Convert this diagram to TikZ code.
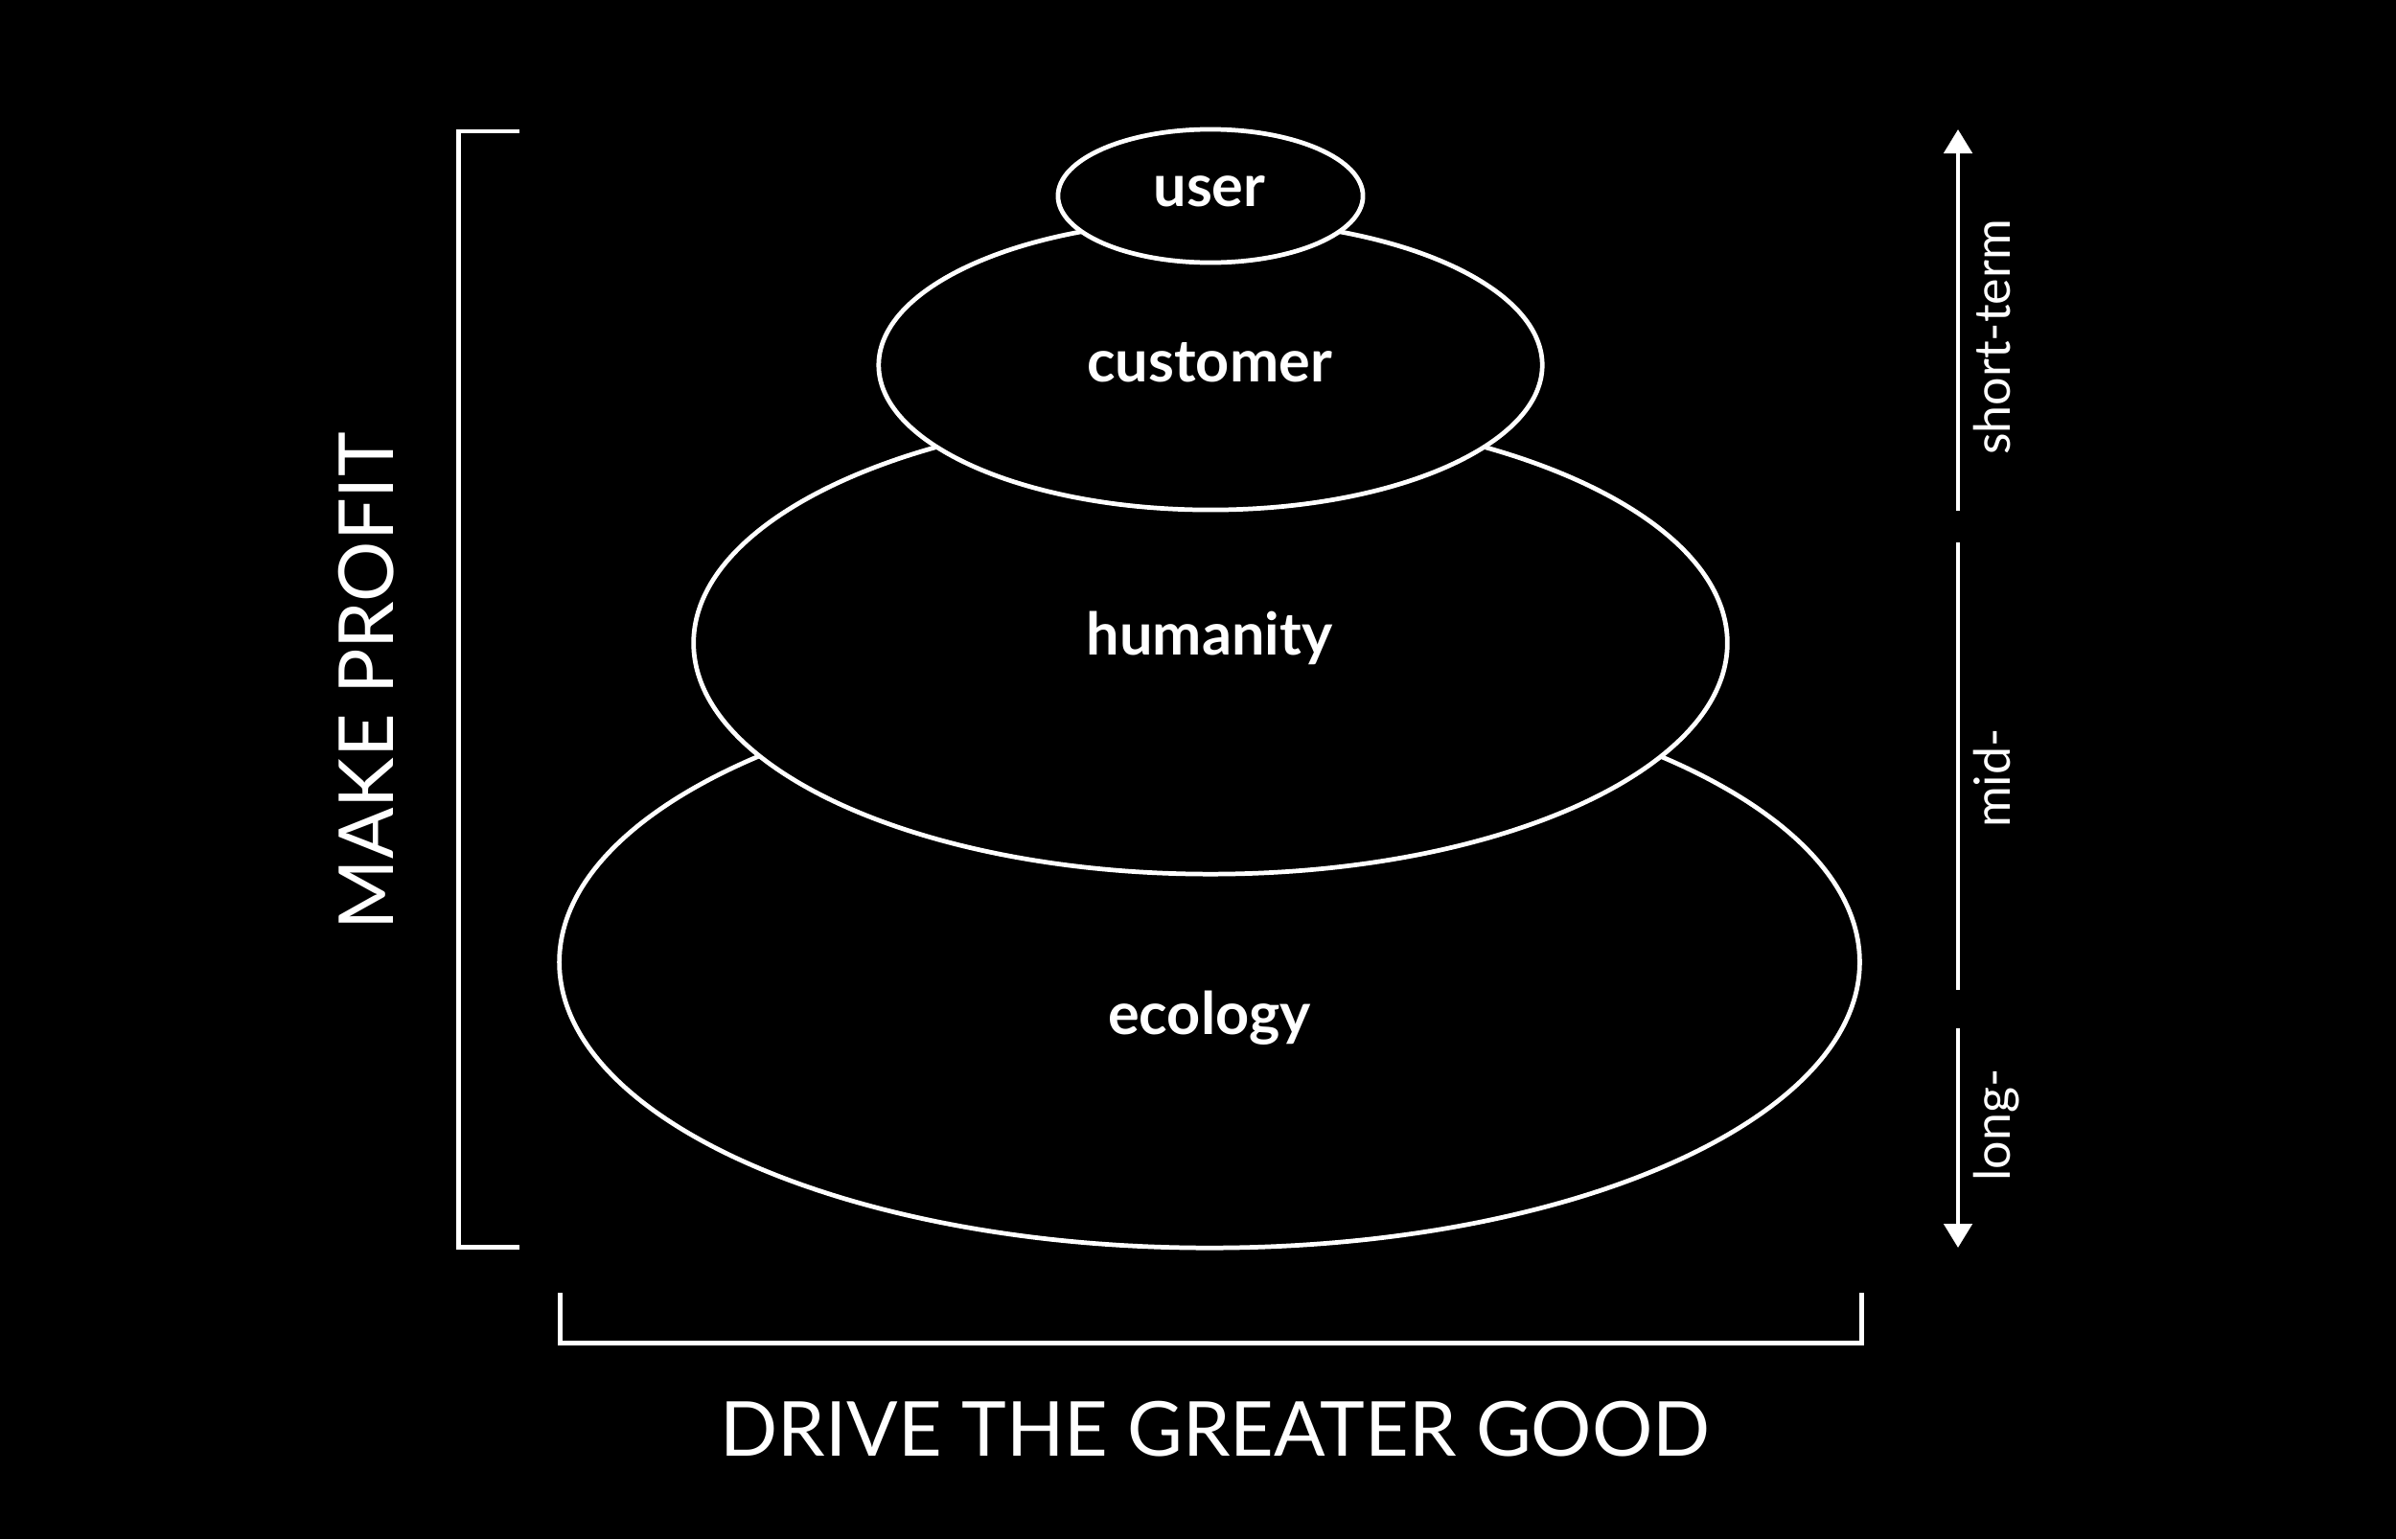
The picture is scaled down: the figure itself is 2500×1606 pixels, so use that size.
\documentclass[tikz,border=0pt]{standalone}
\usepackage{fontspec}
\setmainfont{Lato}
\usetikzlibrary{shapes.geometric,arrows.meta}
\tikzset{
  layer/.style={ellipse, draw=white, fill=black, line width=1.35pt, inner sep=0pt},
  lbl/.style={text=white, font=\fontsize{17.4pt}{20pt}\selectfont\bfseries, anchor=base},
  big/.style={text=white, font=\fontsize{22.5pt}{26pt}\selectfont, inner sep=0pt, anchor=base},
  small/.style={text=white, font=\fontsize{14.8pt}{17pt}\selectfont, rotate=90, anchor=base, inner sep=0pt},
  frame/.style={draw=white, line width=1.42pt},
  axis/.style={draw=white, line width=1.4pt},
  tip/.style={-{Triangle[width=0.29cm,length=0.25cm]}}
}
\begin{document}
\begin{tikzpicture}[x=0.01cm,y=-0.01cm]
\fill[black] (0,0) rectangle (2500,1606);
\useasboundingbox (0,0) rectangle (2500,1606);
% layered ellipses (bottom first)
\node[layer, minimum width=13.56cm, minimum height=5.96cm] (eco) at (1262,1004) {};
\node[layer, minimum width=10.78cm, minimum height=4.82cm] (hum) at (1263,671) {};
\node[layer, minimum width=6.92cm, minimum height=3.02cm] (cus) at (1263,381) {};
\node[layer, minimum width=3.18cm, minimum height=1.39cm] (usr) at (1263,204.5) {};
% labels
\node[lbl] (tuser) at (1262,215) {user};
\node[lbl] (tcus) at (1262,398) {customer};
\node[lbl] (thum) at (1262,683) {humanity};
\node[lbl] (teco) at (1262,1079) {ecology};
% left bracket
\coordinate (lt) at (542,137);
\coordinate (ltc) at (478,137);
\coordinate (lbc) at (478,1301);
\coordinate (lb) at (542,1301);
\draw[frame] (lt) -- (ltc) -- (lbc) -- (lb);
\node[big, rotate=90] (profit) at (410,711) {MAKE PROFIT};
% bottom bracket
\coordinate (bl) at (584,1349);
\coordinate (blc) at (584,1401);
\coordinate (brc) at (1942,1401);
\coordinate (br) at (1942,1349);
\draw[frame] (bl) -- (blc) -- (brc) -- (br);
\node[big] (good) at (1268,1519) {DRIVE THE GREATER GOOD};
% time axis
\coordinate (a1s) at (2043,533);
\coordinate (a1e) at (2043,135);
\coordinate (a2s) at (2043,566);
\coordinate (a2e) at (2043,1033);
\coordinate (a3s) at (2043,1073);
\coordinate (a3e) at (2043,1302);
\draw[axis, tip] (a1s) -- (a1e);
\draw[axis] (a2s) -- (a2e);
\draw[axis, tip] (a3s) -- (a3e);
\node[small] (short) at (2097,352) {short-term};
\node[small] (mid) at (2097,812) {mid-};
\node[small] (long) at (2097,1174) {long-};
\end{tikzpicture}
\end{document}
